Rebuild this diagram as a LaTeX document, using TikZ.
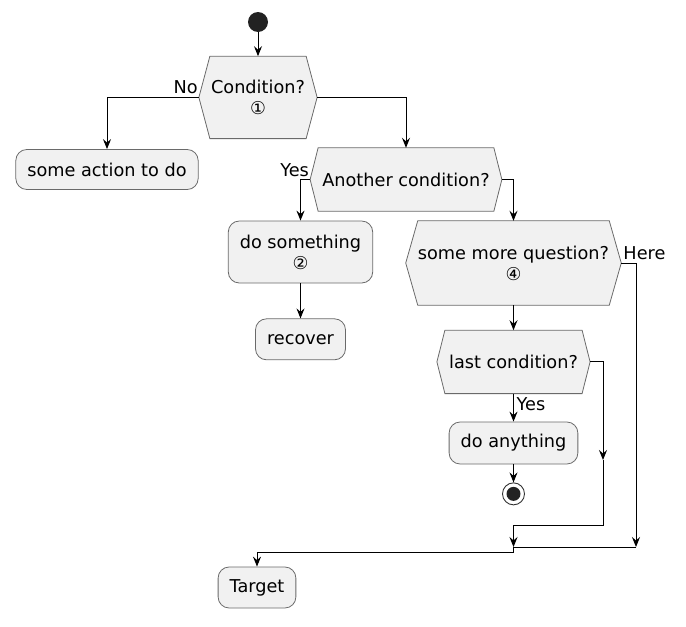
\documentclass[tikz,border=0pt]{standalone}
\usepackage{fontspec}
\setmainfont{DejaVu Sans}
\usetikzlibrary{arrows.meta,positioning,backgrounds}
\definecolor{boxfill}{HTML}{F1F1F1}
\definecolor{boxline}{HTML}{6A6A6A}
\definecolor{dotfill}{HTML}{222222}
\newcommand{\diagfont}{\fontsize{17.7}{21}\selectfont}
\tikzset{
    %Define standard arrow tip
    >={Stealth[length=10pt,width=8pt,inset=3.5pt]},
    %Define style for boxes
    action/.style={
           rectangle,
           rounded corners=11pt,
           draw=boxline, line width=0.8pt,
           fill=boxfill,
           inner xsep=11.5pt,
           minimum height=40pt,
           font=\diagfont,
           align=center},
    decision/.style={
           rectangle,
           inner xsep=12pt,
           inner ysep=0pt,
           font=\diagfont,
           align=center},
    hexline/.style={
           draw=boxline, line width=0.8pt,
           fill=boxfill},
    startdot/.style={
           circle,
           fill=dotfill,
           minimum size=20pt,
           inner sep=0pt},
    stopdot/.style={
           circle,
           draw=black!80, line width=0.9pt,
           fill=white,
           minimum size=22pt,
           inner sep=0pt,
           path picture={\fill[dotfill] (path picture bounding box.center) circle (7pt);}},
    lbl/.style={font=\diagfont, inner sep=0pt},
    % Define arrow style
    pil/.style={
           ->,
           line width=1pt}
}

\begin{document}
\begin{tikzpicture}[x=1pt,y=-1pt]
\useasboundingbox (0,0) rectangle (686,627);
\node[startdot] (start) at (258,22) {};
\node[decision, minimum height=82pt, below=24pt of start] (cond1) {Condition?\\①};
\node[action] (act1) at (107,169.5) {some action to do};
\node[decision, minimum height=63pt] (cond2) at (406,179.5) {Another condition?};
\node[action, minimum height=62pt] (do2) at (300.5,252) {do something\\②};
\node[action, minimum height=41pt, below=35pt of do2] (recover) {recover};
\node[decision, minimum height=84pt] (cond3) at (513.5,263) {some more question?\\④};
\node[decision, minimum height=63pt, below=25pt of cond3] (cond4) {last condition?};
\node[action, minimum height=42pt, below=28pt of cond4] (doany) {do anything};
\node[stopdot, below=18pt of doany] (stop) {};
\node[action, minimum height=41pt] (target) at (257,587.5) {Target};

% hexagons behind the decision texts
\begin{scope}[on background layer]
\foreach \n/\d in {cond1/11pt, cond2/8pt, cond3/12pt, cond4/8pt}
    \draw[hexline] (\n.west) -- ([xshift=\d]\n.north west) -- ([xshift=-\d]\n.north east)
        -- (\n.east) -- ([xshift=-\d]\n.south east) -- ([xshift=\d]\n.south west) -- cycle;
\end{scope}

% branch labels
\node[lbl, anchor=base east] (no1) at ([xshift=-1pt,yshift=3.5pt]cond1.west) {No};
\node[lbl, anchor=base east] (yes2) at ([xshift=-1pt,yshift=3.5pt]cond2.west) {Yes};
\node[lbl, anchor=base west] (here3) at ([xshift=2pt,yshift=3.5pt]cond3.east) {Here};
\node[lbl, anchor=base west] (yes4) at ([xshift=3pt,yshift=-17pt]cond4.south) {Yes};

% merge points
\coordinate (mid4) at (603,460);
\coordinate (low4) at (603,525);
\coordinate (j2) at (cond4.south |- 0,547);
\coordinate (j3) at (636,547);

\path[pil]
    (start) edge (cond1)
    (do2) edge (recover)
    (cond3) edge (cond4)
    (cond4) edge (doany)
    (doany) edge (stop);
\draw[pil] (cond1.west) -| (act1.north);
\draw[pil] (cond1.east) -| (cond2.north);
\draw[pil] (cond2.west) -| (do2.north);
\draw[pil] (cond2.east) -| (cond3.north);
\draw[pil] (cond4.east) -| (mid4);
\draw[pil] (mid4) -- (low4) -| (j2);
\draw[pil] (cond3.east) -| (j3);
\draw[line width=1pt] (j3) -- (j2);
\draw[pil] (j2) -- ++(0,5) -| (target.north);
\end{tikzpicture}
\end{document}
